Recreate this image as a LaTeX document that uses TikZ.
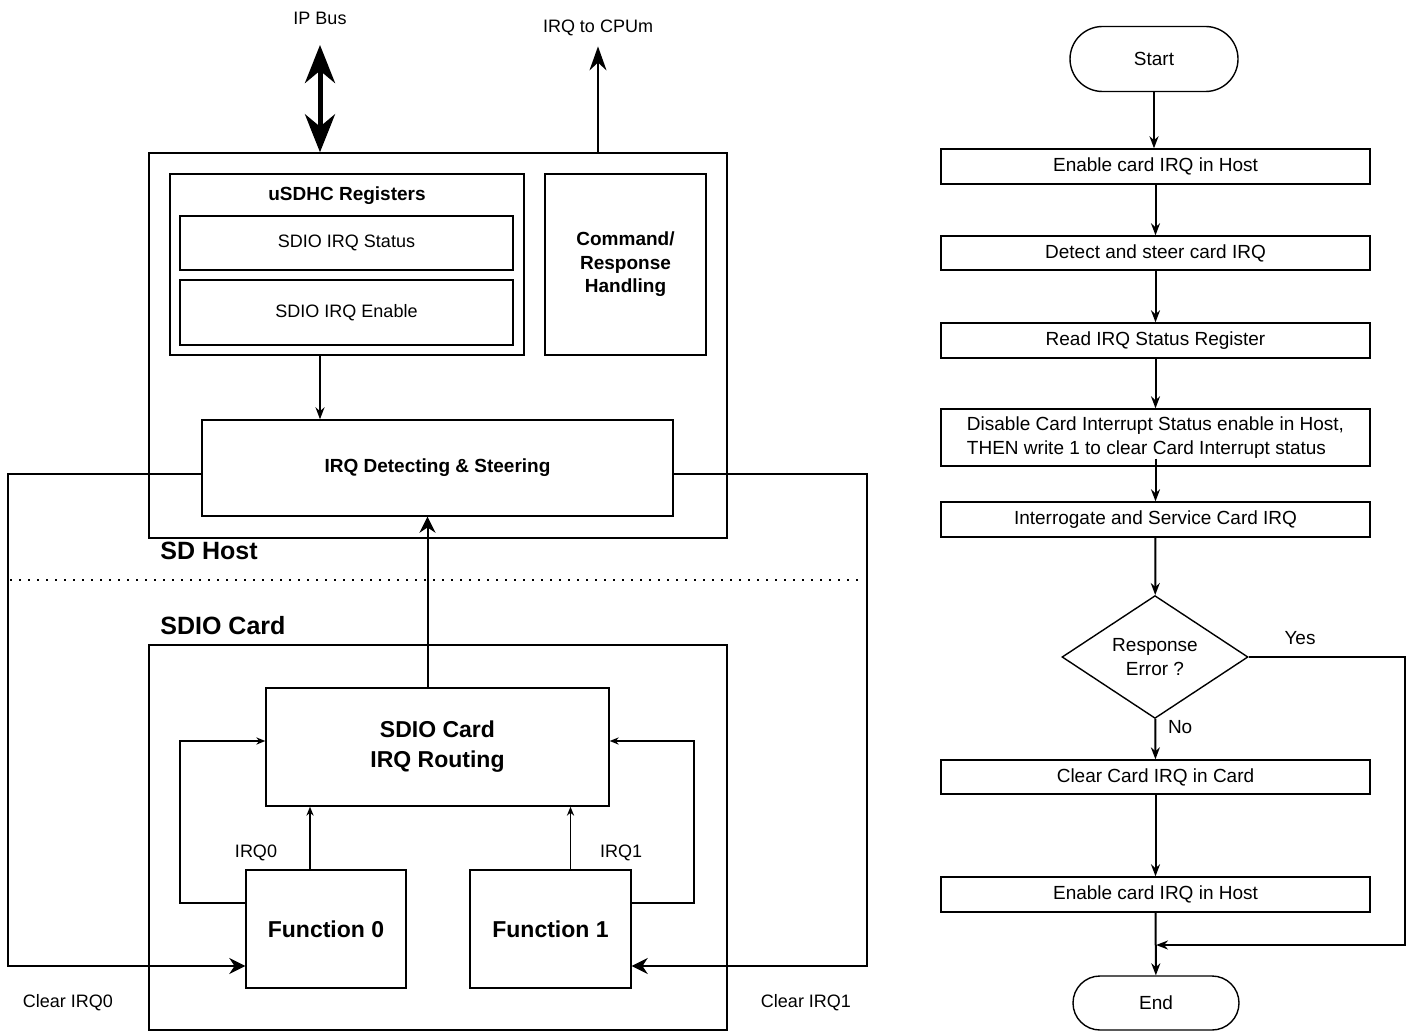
\documentclass[tikz,border=0pt]{standalone}
\usepackage{fontspec}
\setmainfont{Liberation Sans}
\usetikzlibrary{arrows.meta,positioning,calc,shapes.misc,shapes.geometric}
\tikzset{
  >={Stealth[length=6pt,width=4.5pt]},
  box/.style={draw,line width=0.7pt,inner sep=0pt,align=center,font=\fontsize{9}{11}\selectfont},
  bbox/.style={box,font=\bfseries\fontsize{9.5}{11.75}\selectfont},
  bigbox/.style={box,font=\bfseries\fontsize{11.5}{15}\selectfont},
  fbox/.style={box,font=\fontsize{9.5}{12}\selectfont},
  term/.style={fbox,rounded rectangle},
  dec/.style={fbox,diamond},
  lbl/.style={font=\fontsize{9}{11}\selectfont,inner sep=1pt},
  sec/.style={font=\bfseries\fontsize{12.5}{15}\selectfont,anchor=west,inner sep=0pt},
  arr/.style={->,line width=1pt},
  sarr/.style={-{Stealth[length=4.5pt,width=3.6pt]},line width=0.9pt},
  barr/.style={-{Stealth[length=8pt,width=8pt]},line width=1pt},
  cpuarr/.style={-{Stealth[length=12pt,width=8.5pt]},line width=0.9pt},
  bus/.style={{Stealth[length=19pt,width=15pt]}-{Stealth[length=19pt,width=15pt]},line width=2.5pt},
}
% box from its corners (pixel grid): [style]{name}{x1}{y1}{x2}{y2}{text}
\newcommand{\blk}[7][]{\node[box,#1,minimum width={(#5-#3)*0.5pt},minimum height={(#6-#4)*0.5pt}] (#2) at ({(#3+#5)/2},{(#4+#6)/2}) {#7};}

\begin{document}
\begin{tikzpicture}[x=0.5pt,y=-0.5pt]
  \useasboundingbox (0,0) rectangle (1408,1032);

  % SD host side
  \blk{host}{149}{153}{727}{538}{}
  \blk{regs}{170}{174}{524}{355}{}
  \node[font=\bfseries\fontsize{9.5}{11}\selectfont] (regsl) at (347,196) {uSDHC Registers};
  \blk{sts}{180}{216}{513}{270}{SDIO IRQ Status}
  \blk{ena}{180}{280}{513}{345}{SDIO IRQ Enable}
  \blk[bbox]{cmd}{545}{174}{706}{355}{Command/\\Response\\Handling}
  \blk[bbox]{det}{202}{420}{673}{516}{IRQ Detecting \& Steering}
  \node[lbl] (busl) at (320,18) {IP Bus};
  \node[lbl] (cpul) at (598,28) {IRQ to CPUm};
  \coordinate (bus) at (320,45);
  \draw[bus] (bus) -- (bus |- host.north);
  \draw[cpuarr] (host.north -| cpul.south) -- ([yshift=-4pt]cpul.south);
  \draw[arr] (regs.south -| bus) -- (det.north -| bus);
  \node[sec] (hostl) at (160,551) {SD Host};

  \draw[line width=0.9pt,dash pattern=on 0.9pt off 3.6pt] (10,580) -- (860,580);

  % SDIO card side
  \node[sec] (cardl) at (160,626) {SDIO Card};
  \blk{card}{149}{645}{727}{1030}{}
  \blk[bigbox]{rout}{266}{688}{609}{806}{SDIO Card\\IRQ Routing}
  \blk[bigbox]{f0}{246}{870}{406}{988}{Function 0}
  \blk[bigbox]{f1}{470}{870}{631}{988}{Function 1}
  \draw[barr] ([xshift=-5pt]rout.north) -- ([xshift=-5pt]det.south);
  \coordinate (q0) at ([xshift=-8pt]f0.north);
  \coordinate (q1) at ([xshift=10pt]f1.north);
  \draw[sarr] (q0) -- (q0 |- rout.south);
  \draw[sarr] (q1) -- (q1 |- rout.south);
  \node[lbl] (irq0) at (256,853) {IRQ0};
  \node[lbl] (irq1) at (621,853) {IRQ1};
  \draw[sarr] ([yshift=13pt]f0.west) -- ++(-65,0) |- ([yshift=3pt]rout.west);
  \draw[sarr] ([yshift=13pt]f1.east) -- ++(62,0) |- ([yshift=3pt]rout.east);
  \draw[barr] ([yshift=-3pt]det.west) -- ++(-193,0) |- ([yshift=-18.5pt]f0.west);
  \draw[barr] ([yshift=-3pt]det.east) -- ++(193,0) |- ([yshift=-18.5pt]f1.east);
  \node[lbl] (clr0) at (68,1003) {Clear IRQ0};
  \node[lbl] (clr1) at (806,1003) {Clear IRQ1};

  % flow chart
  \node[term,minimum width=84pt,minimum height=32.5pt] (start) at (1154,59) {Start};
  \blk[fbox]{s1}{941}{149}{1370}{184}{Enable card IRQ in Host}
  \blk[fbox]{s2}{941}{236}{1370}{270}{Detect and steer card IRQ}
  \blk[fbox]{s3}{941}{323}{1370}{358}{Read IRQ Status Register}
  \blk[fbox,align=left]{s4}{941}{409}{1370}{466}{Disable Card Interrupt Status enable in Host,\\THEN write 1 to clear Card Interrupt status}
  \blk[fbox]{s5}{941}{502}{1370}{537}{Interrogate and Service Card IRQ}
  \node[dec,minimum width=93pt,minimum height=60pt] (dia) at (1155,657) {Response\\Error ?};
  \blk[fbox]{s6}{941}{760}{1370}{794}{Clear Card IRQ in Card}
  \blk[fbox]{s7}{941}{877}{1370}{912}{Enable card IRQ in Host}
  \node[term,minimum width=83pt,minimum height=27pt] (end) at (1156,1003) {End};
  \coordinate (join) at (1156,945);
  \draw[arr] (start.south) -- (s1.north -| start.south);
  \draw[arr] (s1) -- (s2);
  \draw[arr] (s2) -- (s3);
  \draw[arr] (s3) -- (s4);
  \draw[arr] ([yshift=4pt]s4.south) -- (s5.north);
  \draw[arr] (s5) -- (dia);
  \draw[arr] (dia) -- node[pos=0.2,right=6pt,fbox,draw=none] (nol) {No} (s6);
  \draw[arr] (s6) -- (s7);
  \draw[arr] (s7) -- (end);
  \draw[arr] (dia.east) -- ++(156,0) |- (join);
  \node[fbox,draw=none] (yesl) at (1300,638) {Yes};
\end{tikzpicture}
\end{document}
